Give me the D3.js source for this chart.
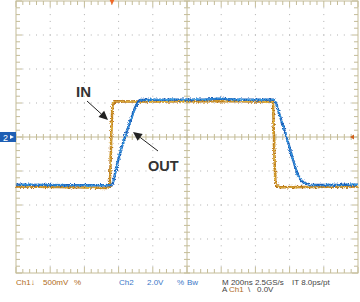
<!DOCTYPE html>
<html><head><meta charset="utf-8">
<script src="https://cdn.jsdelivr.net/npm/d3@7"></script>
<style>html,body{margin:0;padding:0;background:#fff;}svg{display:block;}</style>
</head><body>
<svg id="c" width="360" height="302"></svg>
<script>
// Time (ns from left edge of screen, 200 ns/div) and voltage of each channel
const inTime  = [0, 250, 450, 530, 548, 553, 558, 562, 566, 579, 800, 1000, 1200, 1400, 1503, 1506, 1512, 1517, 1526, 1544, 1700, 2000];
const inVolts = [-0.73, -0.735, -0.745, -0.75, -0.735, -0.40, 0.10, 0.36, 0.50, 0.525, 0.52, 0.525, 0.53, 0.52, 0.52, 0.25, -0.34, -0.66, -0.72, -0.74, -0.735, -0.73];
const outTime  = [0, 300, 540, 561, 570, 591, 614, 637, 667, 696, 713, 725, 900, 1100, 1190, 1300, 1509, 1520, 1582, 1643, 1661, 1684, 1719, 1850, 2000];
const outVolts = [-2.80, -2.83, -2.84, -2.82, -2.58, -1.62, -0.75, 0.0, 0.9, 1.72, 2.06, 2.18, 2.20, 2.20, 2.26, 2.20, 2.20, 2.0, 0.0, -2.12, -2.47, -2.70, -2.82, -2.82, -2.80];
// screen divisions
const hDivs = [0,1,2,3,4,5,6,7,8,9,10];
const vDivs = [-4,-3,-2,-1,0,1,2,3,4];
// readout texts
const readout1 = [
  {t:"Ch1\u2193", x:16, c:"#b06c22"}, {t:"500mV", x:43, c:"#b06c22"}, {t:"%", x:74, c:"#b06c22"},
  {t:"Ch2", x:119, c:"#3a78c8"}, {t:"2.0V", x:147, c:"#3a78c8"}, {t:"%", x:177, c:"#3a78c8"}, {t:"Bw", x:187, c:"#3a78c8"},
  {t:"M 200ns 2.5GS/s", x:222, c:"#444"}, {t:"IT 8.0ps/pt", x:292, c:"#444"}
];
const readout2 = [
  {t:"A", x:222, c:"#444"}, {t:"Ch1", x:229, c:"#b06c22"}, {t:"\\", x:248, c:"#444"}, {t:"0.0V", x:257, c:"#444"}
];

const svg = d3.select("#c");
const L=16, R=358, T=1, B=273;
const xDiv = d3.scaleLinear().domain([0,10]).range([L,R]);
const yDiv = d3.scaleLinear().domain([-4,4]).range([B,T]);
const x = d3.scaleLinear().domain([0,2000]).range([L,R]);
const y1 = d3.scaleLinear().domain([-2,2]).range([B,T]);   // Ch1 500 mV/div
const y2 = d3.scaleLinear().domain([-8,8]).range([B,T]);   // Ch2 2.0 V/div

const defs = svg.append("defs");
function jitter(id, seed, scale, freq){
  const f = defs.append("filter").attr("id",id).attr("filterUnits","userSpaceOnUse")
    .attr("x",0).attr("y",0).attr("width",360).attr("height",302);
  f.append("feTurbulence").attr("type","fractalNoise").attr("baseFrequency",freq).attr("numOctaves",2).attr("seed",seed).attr("result","n");
  f.append("feDisplacementMap").attr("in","SourceGraphic").attr("in2","n").attr("scale",scale)
    .attr("xChannelSelector","R").attr("yChannelSelector","G");
}
jitter("jA",3,3.5,1.3); jitter("jB",11,4,1.5); jitter("jC",7,3.5,1.3); jitter("jD",19,4,1.5);

const grid = svg.append("g");
const gridCol = "#c4bc98";
const minor = [];
for (let i=0;i<=50;i++) minor.push(i/5);
const minorV = [];
for (let i=0;i<=40;i++) minorV.push(-4+i/5);

// dotted major lines
hDivs.filter(d=>d>0&&d<10&&d!==5).forEach(d=>{
  grid.selectAll(null).data(minorV.filter(v=>v>-4&&v<4)).enter().append("rect")
    .attr("x",xDiv(d)-0.5).attr("y",v=>yDiv(v)-0.5).attr("width",1).attr("height",1).attr("fill","#b0b0b0");
});
vDivs.filter(d=>d>-4&&d<4&&d!==0).forEach(d=>{
  grid.selectAll(null).data(minor.filter(v=>v>0&&v<10)).enter().append("rect")
    .attr("x",v=>xDiv(v)-0.5).attr("y",yDiv(d)-0.5).attr("width",1).attr("height",1).attr("fill","#b0b0b0");
});
// center cross
grid.append("line").attr("x1",L).attr("x2",R).attr("y1",yDiv(0)).attr("y2",yDiv(0)).attr("stroke",gridCol);
grid.append("line").attr("y1",T).attr("y2",B).attr("x1",xDiv(5)).attr("x2",xDiv(5)).attr("stroke",gridCol);
grid.selectAll(null).data(minor).enter().append("line")
  .attr("x1",d=>xDiv(d)).attr("x2",d=>xDiv(d)).attr("y1",yDiv(0)-3).attr("y2",yDiv(0)+3).attr("stroke",gridCol);
grid.selectAll(null).data(minorV).enter().append("line")
  .attr("y1",d=>yDiv(d)).attr("y2",d=>yDiv(d)).attr("x1",xDiv(5)-3).attr("x2",xDiv(5)+3).attr("stroke",gridCol);
// border ticks
const isMaj = v => Math.abs(v-Math.round(v))<1e-6;
grid.selectAll(null).data(minor).enter().append("line")
  .attr("x1",d=>xDiv(d)).attr("x2",d=>xDiv(d)).attr("y1",T).attr("y2",d=>T+(isMaj(d)?6:4)).attr("stroke",gridCol);
grid.selectAll(null).data(minor).enter().append("line")
  .attr("x1",d=>xDiv(d)).attr("x2",d=>xDiv(d)).attr("y1",B).attr("y2",d=>B-(isMaj(d)?6:4)).attr("stroke",gridCol);
grid.selectAll(null).data(minorV).enter().append("line")
  .attr("y1",d=>yDiv(d)).attr("y2",d=>yDiv(d)).attr("x1",L).attr("x2",d=>L+(isMaj(d)?6:4)).attr("stroke",gridCol);
grid.selectAll(null).data(minorV).enter().append("line")
  .attr("y1",d=>yDiv(d)).attr("y2",d=>yDiv(d)).attr("x1",R).attr("x2",d=>R-(isMaj(d)?6:4)).attr("stroke",gridCol);
grid.append("rect").attr("x",L).attr("y",T).attr("width",R-L).attr("height",B-T)
  .attr("fill","none").attr("stroke",gridCol);

// traces
const lineIn = d3.line().x(i=>x(inTime[i])).y(i=>y1(inVolts[i]));
const lineOut = d3.line().x(i=>x(outTime[i])).y(i=>y2(outVolts[i]));
const idxIn = d3.range(inTime.length), idxOut = d3.range(outTime.length);
const tr = svg.append("g").attr("fill","none").attr("stroke-linejoin","round");
tr.append("path").attr("d",lineIn(idxIn)).attr("stroke","#b8761c").attr("stroke-width",2.4).attr("filter","url(#jA)");
tr.append("path").attr("d",lineIn(idxIn)).attr("stroke","#e0b23a").attr("stroke-width",1).attr("filter","url(#jB)");
tr.append("path").attr("d",lineOut(idxOut)).attr("stroke","#1c5fb8").attr("stroke-width",2.4).attr("filter","url(#jC)");
tr.append("path").attr("d",lineOut(idxOut)).attr("stroke","#3aa0e6").attr("stroke-width",1).attr("filter","url(#jD)");

// markers
svg.append("path").attr("d",`M${x(548)},0 L${x(575)},0 L${x(561)},5 Z`).attr("fill","#f06a2a");
svg.append("path").attr("d",`M${R-8},${yDiv(0)} L${R-4},${yDiv(0)-2.5} L${R-4},${yDiv(0)+2.5} Z`).attr("fill","#d0601a");
svg.append("rect").attr("x",0).attr("y",yDiv(0)-5).attr("width",16).attr("height",10).attr("fill","#1f5fb4");
svg.append("text").attr("x",3).attr("y",yDiv(0)+3.5).attr("fill","#fff").attr("font-family","Liberation Sans, Arial, sans-serif").attr("font-size",9).text("2");
svg.append("path").attr("d",`M${10},${yDiv(0)-2} L${14},${yDiv(0)} L${10},${yDiv(0)+2} Z`).attr("fill","#fff");

// annotations
function arrow(x1,y1,x2,y2){
  const a = Math.atan2(y2-y1,x2-x1), len=9, w=4.2;
  const bx = x2-len*Math.cos(a), by = y2-len*Math.sin(a);
  svg.append("line").attr("x1",x1).attr("y1",y1).attr("x2",bx).attr("y2",by).attr("stroke","#222").attr("stroke-width",1);
  svg.append("path").attr("d",`M${x2},${y2} L${bx+w*Math.sin(a)},${by-w*Math.cos(a)} L${bx-w*Math.sin(a)},${by+w*Math.cos(a)} Z`).attr("fill","#222");
}
arrow(87,101,108,120);
arrow(158,151,133,132);
svg.append("text").attr("x",76).attr("y",97).attr("font-family","Liberation Sans, Arial, sans-serif").attr("font-weight","bold").attr("font-size",15).attr("fill","#333").text("IN");
svg.append("text").attr("x",148).attr("y",171).attr("font-family","Liberation Sans, Arial, sans-serif").attr("font-weight","bold").attr("font-size",14.5).attr("fill","#333").text("OUT");

// readout
const ro = svg.append("g").attr("font-family","Liberation Sans, Arial, sans-serif").attr("font-size",8);
ro.selectAll(null).data(readout1).enter().append("text").attr("x",d=>d.x).attr("y",284.5).attr("fill",d=>d.c).text(d=>d.t);
ro.selectAll(null).data(readout2).enter().append("text").attr("x",d=>d.x).attr("y",292).attr("fill",d=>d.c).text(d=>d.t);
</script>
</body></html>
